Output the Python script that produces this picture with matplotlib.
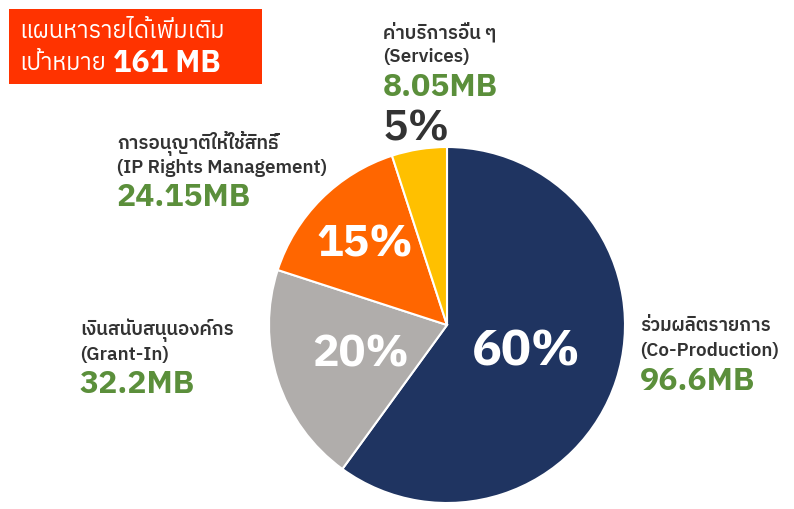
import numpy as np
import matplotlib
matplotlib.use('Agg')
import matplotlib.pyplot as plt
from matplotlib.patches import Rectangle

plt.rcParams['font.family'] = ['IBM Plex Sans Thai', 'Noto Sans Thai', 'DejaVu Sans']

### DATA
names_th = ['ร่วมผลิตรายการ', 'เงินสนับสนุนองค์กร', 'การอนุญาติให้ใช้สิทธิ์', 'ค่าบริการอื่น ๆ']
names_en = ['(Co-Production)', '(Grant-In)', '(IP Rights Management)', '(Services)']
amounts = [96.6, 32.2, 24.15, 8.05]  # MB
amount_labels = ['96.6MB', '32.2MB', '24.15MB', '8.05MB']
pct_labels = ['60%', '20%', '15%', '5%']
colors = ['#1f3461', '#b0adab', '#ff6600', '#ffc000']
title_line1 = 'แผนหารายได้เพิ่มเติม'
title_line2 = 'เป้าหมาย'
title_target = '161 MB'

W, H = 794, 510
green = '#5b8f3b'
dark = '#333333'

fig = plt.figure(figsize=(W / 100, H / 100), dpi=100)
ax = fig.add_axes([0, 0, 1, 1])

### Pie (y measured from bottom)
cx, cy, R = 447, H - 326, 178
wedges, _ = ax.pie(amounts, colors=colors, startangle=90, counterclock=False,
                   center=(cx, cy), radius=R, frame=True,
                   wedgeprops=dict(edgecolor='white', linewidth=1.5))
ax.set_xlim(0, W)
ax.set_ylim(0, H)
ax.set_aspect('equal')
ax.axis('off')

# percent labels placed along each wedge's middle angle
pct_dist = [0.47, 0.51, 0.65, 1.12]
pct_size = [36, 32, 32, 31]
pct_color = ['white', 'white', 'white', dark]
for w, lab, d, s, c in zip(wedges, pct_labels, pct_dist, pct_size, pct_color):
    ang = np.deg2rad((w.theta1 + w.theta2) / 2)
    ax.text(cx + d * R * np.cos(ang), cy + d * R * np.sin(ang), lab,
            ha='center', va='center', fontsize=s, color=c,
            fontweight='bold' if c == 'white' else 'semibold')

### Category labels: left x, top line y (pixels from top)
lab_pos = [(640, 326), (80, 330), (117, 143), (383, 32)]
for (x, y), th, en, amt in zip(lab_pos, names_th, names_en, amount_labels):
    ax.text(x, H - y, th, ha='left', va='center', fontsize=13.5, fontweight='semibold', color=dark)
    ax.text(x, H - y - 25, en, ha='left', va='center', fontsize=13.5, fontweight='semibold', color=dark)
    ax.text(x, H - y - 55, amt, ha='left', va='center', fontsize=23, fontweight='bold', color=green)

### Title box
ax.add_patch(Rectangle((9, H - 85), 253, 75, facecolor='#ff3300', edgecolor='none'))
ax.text(19, H - 31, title_line1, ha='left', va='center', fontsize=17, color='white')
ax.text(19, H - 63, title_line2, ha='left', va='center', fontsize=17, color='white')
ax.text(113, H - 63, title_target, ha='left', va='center', fontsize=22, fontweight='bold', color='white')

fig.savefig('out.png', dpi=100)
